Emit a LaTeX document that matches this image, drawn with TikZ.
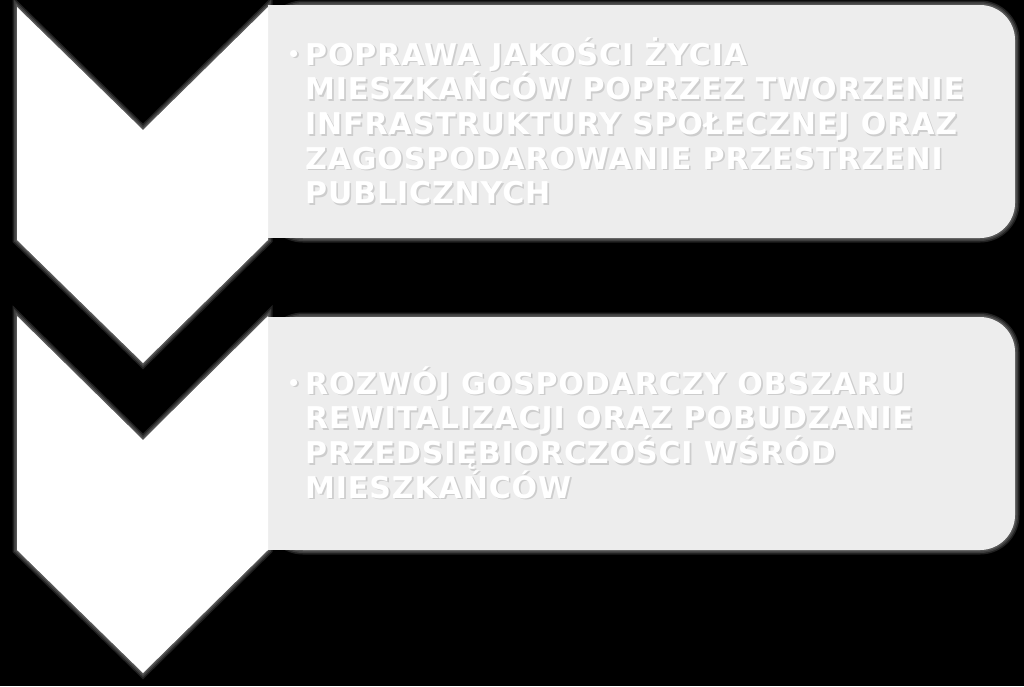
\documentclass[tikz,border=0pt]{standalone}
\usepackage{fontspec}
\setmainfont{DejaVu Sans}
\definecolor{boxgray}{HTML}{EDEDED}
\definecolor{shadowgray}{HTML}{CDCDCD}
\tikzset{
  chevron/.style={fill=white},
  glow/.style={draw=white, line width=#1, opacity=0.13, line join=miter},
  panel/.style={fill=boxgray},
  bodytext/.style={inner sep=0pt, anchor=base west, text=white, font=\bfseries\fontsize{30}{34.7}\selectfont\addfontfeature{LetterSpace=3}}
}
\newcommand{\blt}{\leavevmode\llap{\raisebox{4pt}{\fontsize{20}{20}\selectfont •}\hspace{5pt}}}
\newcommand{\withshadow}[1]{\rlap{\raisebox{-1.6pt}{\hspace*{1.6pt}\color{shadowgray}#1}}#1}
\newcommand{\panelA}{\parbox[t]{700pt}{\raggedright\blt POPRAWA JAKOŚCI ŻYCIA\\MIESZKAŃCÓW POPRZEZ TWORZENIE\\INFRASTRUKTURY SPOŁECZNEJ ORAZ\\ZAGOSPODAROWANIE PRZESTRZENI\\PUBLICZNYCH}}
\newcommand{\panelB}{\parbox[t]{700pt}{\raggedright\blt ROZWÓJ GOSPODARCZY OBSZARU\\REWITALIZACJI ORAZ POBUDZANIE\\PRZEDSIĘBIORCZOŚCI WŚRÓD\\MIESZKAŃCÓW}}
\begin{document}
\begin{tikzpicture}[x=1pt,y=-1pt]
\fill[black] (0,0) rectangle (1024,686);
\useasboundingbox (0,0) rectangle (1024,686);
% soft outer glows
\foreach \w in {9,6,3}{
  \draw[glow=\w, rounded corners=35] (268,5) rectangle (1015,238);
  \draw[glow=\w, rounded corners=35] (268,317) rectangle (1015,550);
  \path[glow=\w] (17,7) -- (143,130) -- (268,7) -- (268,240) -- (143,363) -- (17,240) -- cycle;
  \path[glow=\w] (17,316) -- (143,440) -- (268,316) -- (268,550) -- (143,673) -- (17,550) -- cycle;
}
% panels
\fill[panel, rounded corners=35] (268,5) rectangle (1015,238);
\fill[panel] (268,5) rectangle (400,238);
\fill[panel, rounded corners=35] (268,317) rectangle (1015,550);
\fill[panel] (268,317) rectangle (400,550);
% chevrons
\path[chevron] (17,7) -- (143,130) -- (268,7) -- (268,240) -- (143,363) -- (17,240) -- cycle;
\path[chevron] (17,316) -- (143,440) -- (268,316) -- (268,550) -- (143,673) -- (17,550) -- cycle;
% text
\node[bodytext] (ta) at (305,65) {\withshadow{\panelA}};
\node[bodytext] (tb) at (305,394) {\withshadow{\panelB}};
\end{tikzpicture}
\end{document}
